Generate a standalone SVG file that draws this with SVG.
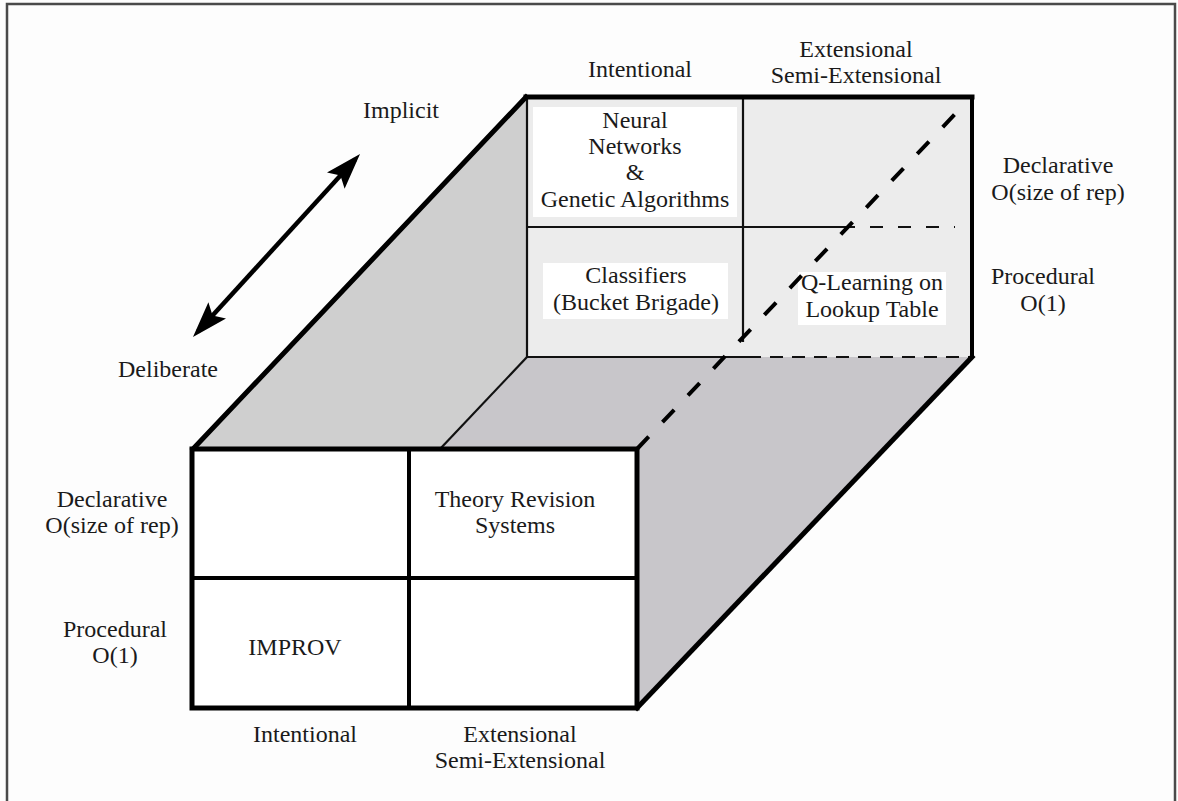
<svg xmlns="http://www.w3.org/2000/svg" width="1178" height="801" viewBox="0 0 1178 801">
<style>
text{font-family:"Liberation Serif","Times New Roman",serif;font-size:24px;fill:#1a1a1a;text-anchor:middle}
.thick{stroke:#000;stroke-width:5;fill:none;stroke-linecap:square}
.med{stroke:#000;stroke-width:4;fill:none}
.thin{stroke:#111;stroke-width:2.2;fill:none}
.hole{fill:#fff}
</style>
<defs>
<marker id="ah" viewBox="0 0 36 24" refX="29" refY="12" markerWidth="36" markerHeight="24" markerUnits="userSpaceOnUse" orient="auto-start-reverse">
<path d="M0,0 L36,12 L0,24 L7,12 Z" fill="#000"/>
</marker>
</defs>
<rect x="0" y="0" width="1178" height="801" fill="#fdfdfd"/>
<rect id="frame" x="7" y="4" width="1168" height="820" fill="none" stroke="#4a4a4a" stroke-width="2.5"/>

<g id="box">
<polygon points="193,449 527,97 527,357 440,449" fill="#cfcfcf"/>
<polygon points="440,449 527,357 972,357 637,708 637,449" fill="#c8c6ca"/>
<rect x="527" y="97" width="445" height="260" fill="#ececec"/>
<line class="thin" x1="743" y1="97" x2="743" y2="342"/>
<line class="thin" x1="527" y1="227" x2="842" y2="227"/>
<line class="thin" x1="842" y1="227" x2="955" y2="227" stroke-dasharray="13 15"/>
<line class="thin" x1="527" y1="97" x2="527" y2="357" stroke-width="2.8"/>
<line class="thin" x1="527" y1="357" x2="748" y2="357" stroke-width="2.8"/>
<line class="thin" x1="748" y1="357" x2="972" y2="357" stroke-width="2.8" stroke-dasharray="13 9"/>
<line class="thin" x1="527" y1="357" x2="440" y2="449"/>
<line class="thick" x1="193" y1="449" x2="526" y2="97"/>
<line class="thick" x1="526" y1="97" x2="972" y2="97"/>
<line class="med" x1="972" y1="97" x2="972" y2="358"/>
<line class="thick" x1="637" y1="708" x2="972" y2="357"/>
</g>

<g id="node-neural">
<rect class="hole" x="533" y="107" width="204" height="110"/>
<text x="635" y="128">Neural</text>
<text x="635" y="154">Networks</text>
<text x="635" y="180">&amp;</text>
<text x="635" y="207">Genetic Algorithms</text>
</g>
<g id="node-classifiers">
<rect class="hole" x="543" y="263" width="185" height="56"/>
<text x="636" y="283">Classifiers</text>
<text x="636" y="310">(Bucket Brigade)</text>
</g>
<g id="node-qlearning">
<rect class="hole" x="798" y="272" width="148" height="53"/>
</g>

<g id="hidden-edge">
<line x1="637" y1="449" x2="957" y2="112" stroke="#000" stroke-width="4" stroke-dasharray="17 20"/>
</g>
<g id="node-qlearning-text">
<text x="872" y="290">Q-Learning on</text>
<text x="872" y="317">Lookup Table</text>
</g>

<g id="front">
<rect x="192" y="449" width="445" height="259" fill="#fff" stroke="#000" stroke-width="5"/>
<line class="med" x1="409" y1="449" x2="409" y2="708"/>
<line class="med" x1="192" y1="578" x2="637" y2="578"/>
</g>
<g id="node-theory">
<text x="515" y="507">Theory Revision</text>
<text x="515" y="533">Systems</text>
</g>
<g id="node-improv">
<text x="295" y="655">IMPROV</text>
</g>

<g id="connectors">
<line x1="197.7" y1="331.8" x2="355.3" y2="159.2" stroke="#000" stroke-width="4.5" marker-start="url(#ah)" marker-end="url(#ah)"/>
</g>

<g id="labels">
<text x="401" y="118">Implicit</text>
<text x="168" y="377">Deliberate</text>
<text x="640" y="77">Intentional</text>
<text x="856" y="57">Extensional</text>
<text x="856" y="83">Semi-Extensional</text>
<text x="1058" y="173">Declarative</text>
<text x="1058" y="200">O(size of rep)</text>
<text x="1043" y="284">Procedural</text>
<text x="1043" y="311">O(1)</text>
<text x="112" y="507">Declarative</text>
<text x="112" y="533">O(size of rep)</text>
<text x="115" y="637">Procedural</text>
<text x="115" y="663">O(1)</text>
<text x="305" y="742">Intentional</text>
<text x="520" y="742">Extensional</text>
<text x="520" y="768">Semi-Extensional</text>
</g>
</svg>
